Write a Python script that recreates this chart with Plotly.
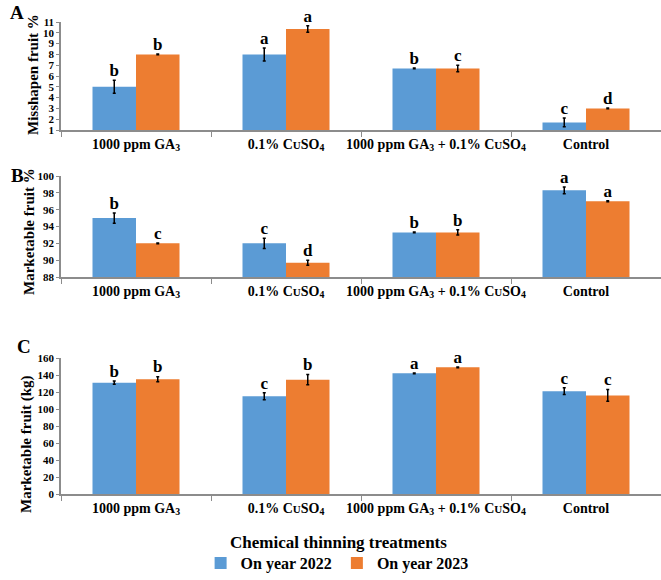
import plotly.graph_objects as go

W, H = 661, 580

categories = ["1000 ppm GA<sub>3</sub>",
              "0.1% C<span style='font-size:11px'>U</span>SO<sub>4</sub>",
              "1000 ppm GA<sub>3</sub> + 0.1% C<span style='font-size:11px'>U</span>SO<sub>4</sub>",
              "Control"]
series_names = ["On year 2022", "On year 2023"]

# Panel A: Misshapen fruit %
a_2022 = [5.0, 8.0, 6.7, 1.7]
a_2023 = [8.0, 10.35, 6.7, 3.0]
a_err_2022 = [0.6, 0.6, 0.03, 0.4]
a_err_2023 = [0.03, 0.3, 0.3, 0.03]
a_let_2022 = ["b", "a", "b", "c"]
a_let_2023 = ["b", "a", "c", "d"]

# Panel B: Marketable fruit %
b_2022 = [95.0, 92.0, 93.3, 98.3]
b_2023 = [92.0, 89.7, 93.3, 97.0]
b_err_2022 = [0.6, 0.6, 0.05, 0.4]
b_err_2023 = [0.05, 0.3, 0.3, 0.05]
b_let_2022 = ["b", "c", "b", "a"]
b_let_2023 = ["c", "d", "b", "a"]

# Panel C: Marketable fruit (kg)
c_2022 = [131, 115, 142, 121]
c_2023 = [135, 134.5, 149, 116]
c_err_2022 = [2, 4, 0.5, 4]
c_err_2023 = [3, 6, 0.5, 7]
c_let_2022 = ["b", "c", "a", "c"]
c_let_2023 = ["b", "b", "a", "c"]

BLUE = "#5B9BD5"
ORANGE = "#ED7D31"
FONT = "Liberation Serif"
AXC = "#8c8c8c"

def yd(top, bottom):
    return [1 - bottom / H, 1 - top / H]

panels = [
    dict(ax="", v=(a_2022, a_2023), e=(a_err_2022, a_err_2023), l=(a_let_2022, a_let_2023),
         rng=[1, 11], dt=1, dom=yd(22, 130)),
    dict(ax="2", v=(b_2022, b_2023), e=(b_err_2022, b_err_2023), l=(b_let_2022, b_let_2023),
         rng=[88, 100], dt=2, dom=yd(176, 277)),
    dict(ax="3", v=(c_2022, c_2023), e=(c_err_2022, c_err_2023), l=(c_let_2022, c_let_2023),
         rng=[0, 160], dt=20, dom=yd(358, 494)),
]

fig = go.Figure()
colors = [BLUE, ORANGE]
for pi, p in enumerate(panels):
    for si in range(2):
        fig.add_trace(go.Bar(
            x=categories, y=p["v"][si], name=series_names[si],
            marker=dict(color=colors[si], line=dict(width=0)),
            error_y=dict(type="data", array=p["e"][si], color="black", thickness=1.5, width=1.5),
            xaxis="x" + p["ax"], yaxis="y" + p["ax"],
            offsetgroup=str(si), alignmentgroup="g" + str(pi),
            showlegend=(pi == 0), legendgroup=series_names[si],
        ))
    for si in range(2):
        tops = [v + e for v, e in zip(p["v"][si], p["e"][si])]
        fig.add_trace(go.Scatter(
            x=categories, y=tops, mode="text",
            text=["<b>%s</b>" % t for t in p["l"][si]],
            textposition="top center",
            textfont=dict(family=FONT, size=17, color="black"),
            xaxis="x" + p["ax"], yaxis="y" + p["ax"],
            offsetgroup=str(si), alignmentgroup="g" + str(pi),
            showlegend=False, hoverinfo="skip", cliponaxis=False,
        ))

layout = dict(
    width=W, height=H,
    margin=dict(l=0, r=0, t=0, b=0, autoexpand=False),
    paper_bgcolor="white", plot_bgcolor="white",
    barmode="group", bargap=0.42, bargroupgap=0,
    scattermode="group", scattergap=0.42,
    font=dict(family=FONT, color="black"),
    legend=dict(orientation="h", x=0.51, xanchor="center", y=1 - 563 / H, yanchor="middle",
                font=dict(family=FONT, size=16, color="black", weight="bold"),
                traceorder="normal"),
)
for p in panels:
    k = p["ax"]
    layout["xaxis" + k] = dict(
        domain=[61 / W, 1.0], anchor="y" + k, type="category",
        showline=True, linecolor=AXC, linewidth=1.5,
        ticks="outside", tickson="boundaries", ticklen=5, tickcolor=AXC,
        tickangle=0, automargin=False,
        tickfont=dict(family=FONT, size=14, color="black", weight="bold"),
        showgrid=False, zeroline=False, fixedrange=True,
    )
    layout["yaxis" + k] = dict(
        domain=p["dom"], anchor="x" + k, range=p["rng"], dtick=p["dt"],
        showline=True, linecolor=AXC, linewidth=1.5,
        ticks="outside", ticklen=3, tickcolor=AXC, automargin=False,
        tickfont=dict(family=FONT, size=11, color="black", weight="bold"),
        showgrid=False, zeroline=False,
    )
fig.update_layout(**layout)

annotations = []
# Panel letters, y titles, x title
extra = [
    dict(x=8 / W, y=1 - 12 / H, text="<b>A</b>", size=19),
    dict(x=9 / W, y=1 - 176 / H, text="<b>B</b>", size=19),
    dict(x=15 / W, y=1 - 346 / H, text="<b>C</b>", size=19),
]
for e in extra:
    annotations.append(dict(x=e["x"], y=e["y"], xref="paper", yref="paper", text=e["text"],
                            showarrow=False, xanchor="left", yanchor="middle",
                            font=dict(family=FONT, size=e["size"], color="black")))
ytitles = [
    (33, 75, "Misshapen fruit %"),
    (29, 232, "Marketable fruit %"),
    (26, 445, "Marketable fruit (kg)"),
]
for x, y, t in ytitles:
    annotations.append(dict(x=x / W, y=1 - y / H, xref="paper", yref="paper", text="<b>%s</b>" % t,
                            showarrow=False, textangle=-90, xanchor="center", yanchor="middle",
                            font=dict(family=FONT, size=15, color="black")))
annotations.append(dict(x=338 / W, y=1 - 542 / H, xref="paper", yref="paper",
                        text="<b>Chemical thinning treatments</b>", showarrow=False,
                        xanchor="center", yanchor="middle",
                        font=dict(family=FONT, size=17, color="black")))
fig.update_layout(annotations=annotations)

fig.write_html("out.html")
